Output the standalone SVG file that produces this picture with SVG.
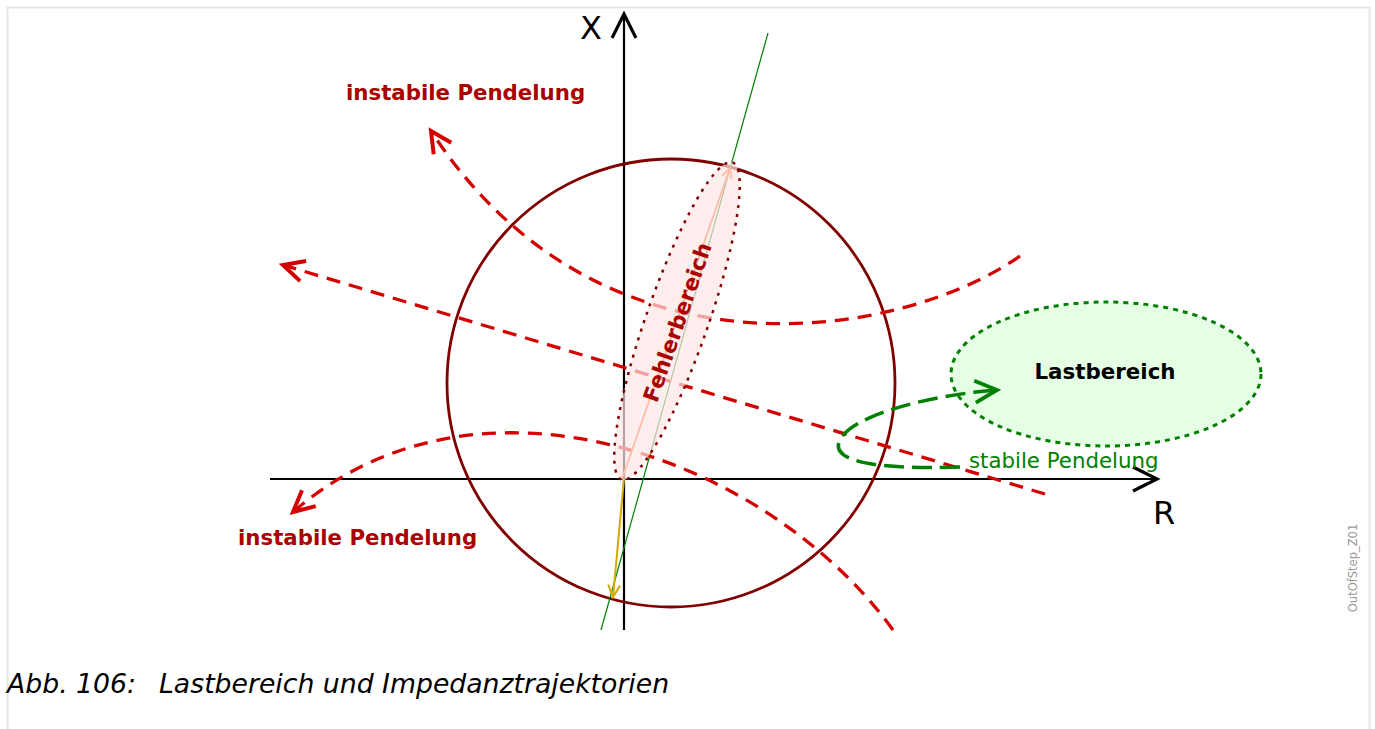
<svg xmlns="http://www.w3.org/2000/svg" width="1375" height="729" viewBox="0 0 1375 729">
<style>
.red{fill:none;stroke:#d40000;stroke-width:3.3;stroke-dasharray:14,9}
.axis{fill:none;stroke:#000;stroke-width:2.2}
.lbl{font-family:"DejaVu Sans",sans-serif}
.inst{font-family:"DejaVu Sans",sans-serif;font-weight:bold;font-size:21.3px;fill:#aa0000}
</style>
<defs>
<marker id="mRed" markerUnits="userSpaceOnUse" markerWidth="40" markerHeight="40" viewBox="-30 -20 40 40" refX="0" refY="0" orient="auto" overflow="visible">
<path d="M-21,-10.5 L0,0 L-21,10.5" fill="none" stroke="#d40000" stroke-width="4" stroke-dasharray="none"/>
</marker>
<marker id="mGreen" markerUnits="userSpaceOnUse" markerWidth="40" markerHeight="40" viewBox="-30 -20 40 40" refX="0" refY="0" orient="auto" overflow="visible">
<path d="M-22,-11 L0,0 L-22,11" fill="none" stroke="#008000" stroke-width="3.8" stroke-dasharray="none"/>
</marker>
<marker id="mBlack" markerUnits="userSpaceOnUse" markerWidth="40" markerHeight="40" viewBox="-30 -20 40 40" refX="0" refY="0" orient="auto" overflow="visible">
<path d="M-24,-12 L0,0 L-24,12" fill="none" stroke="#000" stroke-width="3.2"/>
</marker>
<marker id="mSalmon" markerUnits="userSpaceOnUse" markerWidth="20" markerHeight="20" viewBox="-15 -10 20 20" refX="0" refY="0" orient="auto" overflow="visible">
<path d="M-10,-5 L0,0 L-10,5" fill="none" stroke="#ff5a1a" stroke-width="1.8"/>
</marker>
<marker id="mYellow" markerUnits="userSpaceOnUse" markerWidth="20" markerHeight="20" viewBox="-15 -10 20 20" refX="0" refY="0" orient="auto" overflow="visible">
<path d="M-12,-6 L0,0 L-12,6" fill="none" stroke="#d4aa00" stroke-width="2"/>
</marker>
</defs>
<rect x="0" y="0" width="1375" height="729" fill="#fff"/>
<path d="M7.5,740 V7.5 H1369.5 V740" fill="none" stroke="#e6e6e6" stroke-width="2"/>

<g id="axes">
<line class="axis" x1="624" y1="630" x2="624" y2="14" marker-end="url(#mBlack)"/>
<line class="axis" x1="270" y1="479" x2="1157" y2="479" marker-end="url(#mBlack)"/>
<text class="lbl" x="580" y="39" font-size="32">X</text>
<text class="lbl" x="1153" y="524" font-size="32">R</text>
</g>

<g id="circle">
<circle cx="671" cy="383" r="224" fill="none" stroke="#800000" stroke-width="2.8"/>
</g>

<g id="connectors">
<line x1="601" y1="630" x2="768" y2="33" stroke="#008000" stroke-width="1.2"/>
<path class="red" d="M1020,256 C900,340 600,390 431,131" marker-end="url(#mRed)"/>
<path class="red" d="M1045,494 L283,265" marker-end="url(#mRed)"/>
<path class="red" d="M893,630 C770,460 480,350 293,512" marker-end="url(#mRed)"/>
<line x1="622" y1="479" x2="730" y2="168" stroke="#ff5a1a" stroke-width="1.8" marker-end="url(#mSalmon)"/>
<line x1="624" y1="479" x2="613" y2="597" stroke="#d4aa00" stroke-width="2" marker-end="url(#mYellow)"/>
</g>

<g id="fehlerbereich">
<ellipse cx="677" cy="321" rx="168" ry="31" transform="rotate(-70.7 677 321)" fill="#fce5e4" fill-opacity="0.7" stroke="#800000" stroke-width="2.5" stroke-dasharray="3,6"/>
<text x="677" y="330" transform="rotate(-70.7 677 322)" text-anchor="middle" font-family="DejaVu Sans, sans-serif" font-weight="bold" font-size="21.5" fill="#aa0000">Fehlerbereich</text>
</g>

<g id="lastbereich">
<ellipse cx="1106" cy="374" rx="155" ry="72" fill="#e5ffe5" stroke="#008000" stroke-width="3" stroke-dasharray="5,5"/>
<text x="1105" y="379" text-anchor="middle" font-family="DejaVu Sans, sans-serif" font-weight="bold" font-size="21.4" fill="#000">Lastbereich</text>
</g>

<g id="stabile">
<path d="M960,467 C880,470 828,462 840,440 C852,415 930,395 997,390" fill="none" stroke="#008000" stroke-width="3.5" stroke-dasharray="20,8" marker-end="url(#mGreen)"/>
<text x="969" y="468" font-family="DejaVu Sans, sans-serif" font-size="21.3" fill="#008000">stabile Pendelung</text>
</g>

<g id="labels">
<text class="inst" x="346" y="100">instabile Pendelung</text>
<text class="inst" x="238" y="545">instabile Pendelung</text>
</g>

<text x="1357" y="568" transform="rotate(-90 1357 568)" text-anchor="middle" font-family="DejaVu Sans, sans-serif" font-size="11.5" fill="#999">OutOfStep_Z01</text>

<g id="caption" font-family="DejaVu Sans, sans-serif" font-style="italic" font-size="26.7" fill="#000">
<text x="7" y="693">Abb. 106:</text>
<text x="159" y="693">Lastbereich und Impedanztrajektorien</text>
</g>
</svg>
